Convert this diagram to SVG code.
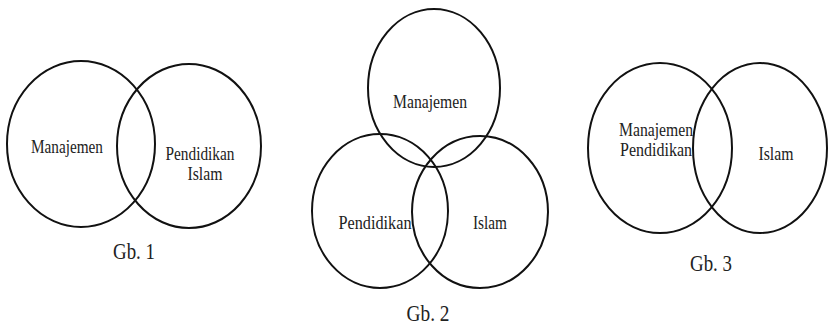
<svg xmlns="http://www.w3.org/2000/svg" width="830" height="327" viewBox="0 0 830 327">
<style>
.c{fill:none;stroke:#111;stroke-width:2}
.t{font-family:"Liberation Serif","Times New Roman",serif;font-size:18px;fill:#222;text-anchor:middle}
.g{font-family:"Liberation Serif","Times New Roman",serif;font-size:23px;fill:#222;text-anchor:middle}
</style>
<rect width="830" height="327" fill="#fff"/>
<g id="gb1">
<g id="gb1-manajemen"><ellipse class="c" cx="81" cy="144" rx="74" ry="83"/><text class="t" x="67" y="153" textLength="72" lengthAdjust="spacingAndGlyphs">Manajemen</text></g>
<g id="gb1-pendidikan-islam"><ellipse class="c" cx="189" cy="146" rx="72" ry="82"/><text class="t" x="200" y="160" textLength="69" lengthAdjust="spacingAndGlyphs">Pendidikan</text><text class="t" x="205" y="180" textLength="35" lengthAdjust="spacingAndGlyphs">Islam</text></g>
<text class="g" x="134" y="259" textLength="42" lengthAdjust="spacingAndGlyphs">Gb. 1</text>
</g>
<g id="gb2">
<g id="gb2-manajemen"><ellipse class="c" cx="434" cy="88" rx="66" ry="79"/><text class="t" x="430" y="108" textLength="74" lengthAdjust="spacingAndGlyphs">Manajemen</text></g>
<g id="gb2-pendidikan"><ellipse class="c" cx="380" cy="211" rx="68" ry="77"/><text class="t" x="375" y="229" textLength="73" lengthAdjust="spacingAndGlyphs">Pendidikan</text></g>
<g id="gb2-islam"><ellipse class="c" cx="480" cy="212" rx="68" ry="76"/><text class="t" x="490" y="229" textLength="34" lengthAdjust="spacingAndGlyphs">Islam</text></g>
<text class="g" x="428" y="321" textLength="43" lengthAdjust="spacingAndGlyphs">Gb. 2</text>
</g>
<g id="gb3">
<g id="gb3-manajemen-pendidikan"><ellipse class="c" cx="660" cy="148" rx="72" ry="85"/><text class="t" x="656" y="136" textLength="74" lengthAdjust="spacingAndGlyphs">Manajemen</text><text class="t" x="656" y="156" textLength="72" lengthAdjust="spacingAndGlyphs">Pendidikan</text></g>
<g id="gb3-islam"><ellipse class="c" cx="760" cy="148" rx="67" ry="85"/><text class="t" x="776" y="160" textLength="35" lengthAdjust="spacingAndGlyphs">Islam</text></g>
<text class="g" x="711" y="271" textLength="42" lengthAdjust="spacingAndGlyphs">Gb. 3</text>
</g>
<g id="connectors"/>
</svg>
